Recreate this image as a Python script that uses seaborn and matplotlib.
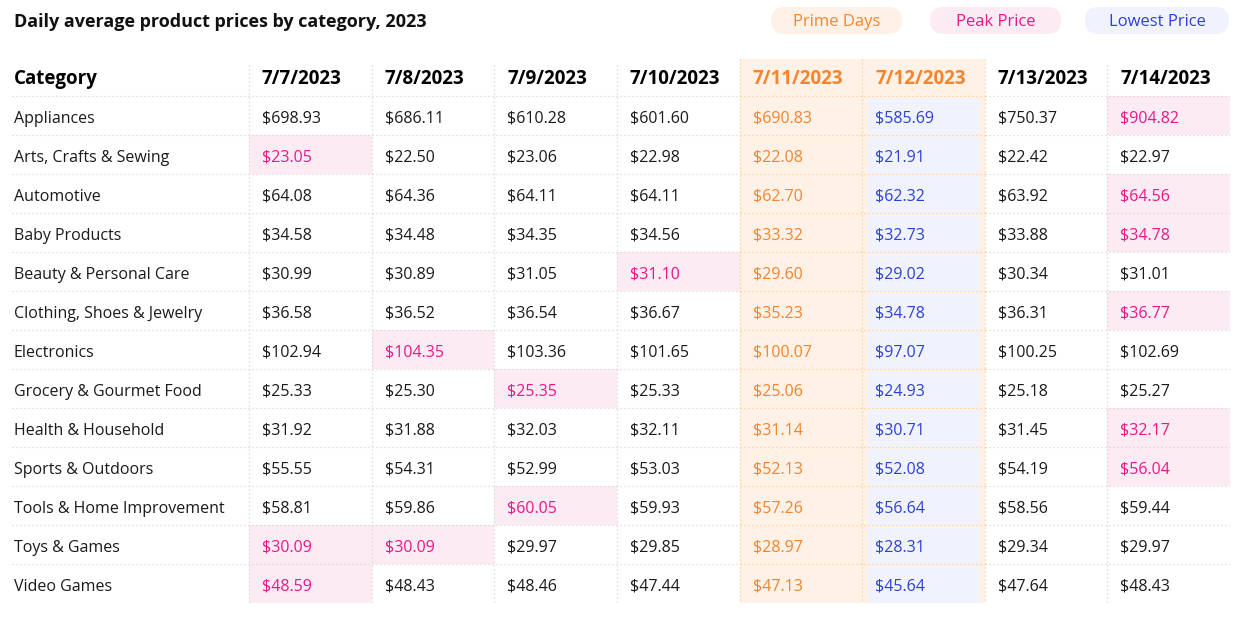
import numpy as np
import pandas as pd
import seaborn as sns
import matplotlib
matplotlib.use("Agg")
import matplotlib.pyplot as plt
from matplotlib.colors import ListedColormap
from matplotlib.patches import Rectangle, FancyBboxPatch

sns.set_theme(style="white")
plt.rcParams['font.family'] = ['Open Sans', 'DejaVu Sans']

# ---------------- data ----------------
title = "Daily average product prices by category, 2023"
dates = ["7/7/2023", "7/8/2023", "7/9/2023", "7/10/2023",
         "7/11/2023", "7/12/2023", "7/13/2023", "7/14/2023"]
categories = ["Appliances", "Arts, Crafts & Sewing", "Automotive", "Baby Products",
              "Beauty & Personal Care", "Clothing, Shoes & Jewelry", "Electronics",
              "Grocery & Gourmet Food", "Health & Household", "Sports & Outdoors",
              "Tools & Home Improvement", "Toys & Games", "Video Games"]
appliances = [698.93, 686.11, 610.28, 601.60, 690.83, 585.69, 750.37, 904.82]
arts = [23.05, 22.50, 23.06, 22.98, 22.08, 21.91, 22.42, 22.97]
automotive = [64.08, 64.36, 64.11, 64.11, 62.70, 62.32, 63.92, 64.56]
baby = [34.58, 34.48, 34.35, 34.56, 33.32, 32.73, 33.88, 34.78]
beauty = [30.99, 30.89, 31.05, 31.10, 29.60, 29.02, 30.34, 31.01]
clothing = [36.58, 36.52, 36.54, 36.67, 35.23, 34.78, 36.31, 36.77]
electronics = [102.94, 104.35, 103.36, 101.65, 100.07, 97.07, 100.25, 102.69]
grocery = [25.33, 25.30, 25.35, 25.33, 25.06, 24.93, 25.18, 25.27]
health = [31.92, 31.88, 32.03, 32.11, 31.14, 30.71, 31.45, 32.17]
sports = [55.55, 54.31, 52.99, 53.03, 52.13, 52.08, 54.19, 56.04]
tools = [58.81, 59.86, 60.05, 59.93, 57.26, 56.64, 58.56, 59.44]
toys = [30.09, 30.09, 29.97, 29.85, 28.97, 28.31, 29.34, 29.97]
video_games = [48.59, 48.43, 48.46, 47.44, 47.13, 45.64, 47.64, 48.43]
# peak-price cells as marked in the source (date per category)
peak_cells = [["7/14/2023"], ["7/7/2023"], ["7/14/2023"], ["7/14/2023"], ["7/10/2023"],
              ["7/14/2023"], ["7/8/2023"], ["7/9/2023"], ["7/14/2023"], ["7/14/2023"],
              ["7/9/2023"], ["7/7/2023", "7/8/2023"], ["7/7/2023"]]
prime_days = ["7/11/2023", "7/12/2023"]
legend_labels = ["Prime Days", "Peak Price", "Lowest Price"]

values = pd.DataFrame([appliances, arts, automotive, baby, beauty, clothing, electronics,
                       grocery, health, sports, tools, toys, video_games],
                      index=categories, columns=dates)

# ---------------- styles ----------------
C_PRIME_BG, C_PEAK_BG, C_LOW_BG = "#FFF1E5", "#FDEBF3", "#F0F3FE"
C_PRIME, C_PEAK, C_LOW = "#F5842C", "#E8188A", "#2E40DA"
C_TEXT = "#1A1A1A"
C_GRID, C_OGRID = "#D4D4D4", "#FFC892"

n_rows, n_cols = values.shape
prime_idx = [dates.index(d) for d in prime_days]
codes = np.zeros(values.shape)
codes[:, prime_idx] = 1
for r, cells in enumerate(peak_cells):
    for d in cells:
        codes[r, dates.index(d)] = 2
low_idx = values.values.argmin(axis=1)

FW, FH = 1238, 620
fig = plt.figure(figsize=(FW / 100, FH / 100), dpi=100)
col_px = (1230 - 249) / 8
row_px = 39
cat_w = 237 / col_px
hdr_h = 37 / row_px
ax = fig.add_axes([12 / FW, 17 / FH, 1218 / FW, 544 / FH])

sns.heatmap(codes, ax=ax, cmap=ListedColormap(["white", C_PRIME_BG, C_PEAK_BG]),
            vmin=-0.5, vmax=2.5, cbar=False, xticklabels=False, yticklabels=False)
ax.set_xlim(-cat_w, n_cols)
ax.set_ylim(n_rows, -hdr_h)
ax.set_axis_off()

# prime band over header
ax.add_patch(Rectangle((min(prime_idx), -hdr_h), len(prime_idx), hdr_h,
                       facecolor=C_PRIME_BG, edgecolor="none", zorder=1))
# lowest cells (inset inside prime band)
inset = 6 / col_px
for r, c in enumerate(low_idx):
    ax.add_patch(Rectangle((c + inset, r + 0.05), 1 - 2 * inset, 0.95,
                           facecolor=C_LOW_BG, edgecolor="none", zorder=1))

# grid lines
dots = (0, (1, 2.2))
p0, p1 = min(prime_idx), max(prime_idx) + 1
for y in range(0, n_rows):
    ax.plot([-cat_w, p0], [y, y], color=C_GRID, lw=0.9, ls=dots, zorder=2)
    ax.plot([p1, n_cols], [y, y], color=C_GRID, lw=0.9, ls=dots, zorder=2)
    ax.plot([p0, p1], [y, y], color=C_OGRID, lw=0.9, ls=dots, zorder=2)
vtop = -hdr_h + 6 / row_px
for x in range(0, n_cols):
    if p0 <= x <= p1:
        ax.plot([x, x], [-hdr_h, n_rows], color=C_OGRID, lw=0.9, ls=dots, zorder=2)
    else:
        ax.plot([x, x], [vtop, n_rows], color=C_GRID, lw=0.9, ls=dots, zorder=2)

# header
tx = 13 / col_px
hdr_base = -hdr_h + 24.7 / row_px
ax.text(-cat_w + 2 / col_px, hdr_base, "Category", fontsize=13.5, fontweight="bold",
        color="#000000", va="baseline", ha="left", zorder=3)
for c, d in enumerate(dates):
    ax.text(c + tx, hdr_base, d, fontsize=13.5, fontweight="bold",
            color=C_PRIME if c in prime_idx else "#000000",
            va="baseline", ha="left", zorder=3)

# body
body_off = 0.5 + 7.2 / row_px
for r, cat in enumerate(categories):
    ax.text(-cat_w + 2 / col_px, r + body_off, cat, fontsize=11.5, color=C_TEXT,
            va="baseline", ha="left", zorder=3)
    for c, d in enumerate(dates):
        if c == low_idx[r]:
            col = C_LOW
        elif codes[r, c] == 2:
            col = C_PEAK
        elif codes[r, c] == 1:
            col = C_PRIME
        else:
            col = C_TEXT
        ax.text(c + tx, r + body_off, f"${values.iloc[r, c]:,.2f}", fontsize=11.5,
                color=col, va="baseline", ha="left", zorder=3)

# overlay for title and legend pills (pixel coordinates)
ov = fig.add_axes([0, 0, 1, 1], zorder=5)
ov.set_xlim(0, FW)
ov.set_ylim(FH, 0)
ov.set_axis_off()
ov.patch.set_alpha(0)
ov.text(14, 27, title, fontsize=13, fontweight="bold", color="#111111",
        va="baseline", ha="left")
pills = [(771, 902, C_PRIME_BG, C_PRIME), (930, 1061, C_PEAK_BG, C_PEAK),
         (1085, 1229, C_LOW_BG, C_LOW)]
for (x0, x1, bg, fg), lab in zip(pills, legend_labels):
    ov.add_patch(FancyBboxPatch((x0, 7), x1 - x0, 27,
                                boxstyle="round,pad=0,rounding_size=13.5",
                                facecolor=bg, edgecolor="none"))
    ov.text((x0 + x1) / 2, 26.3, lab, fontsize=12, color=fg, va="baseline", ha="center")

fig.savefig("out.png", dpi=100)
